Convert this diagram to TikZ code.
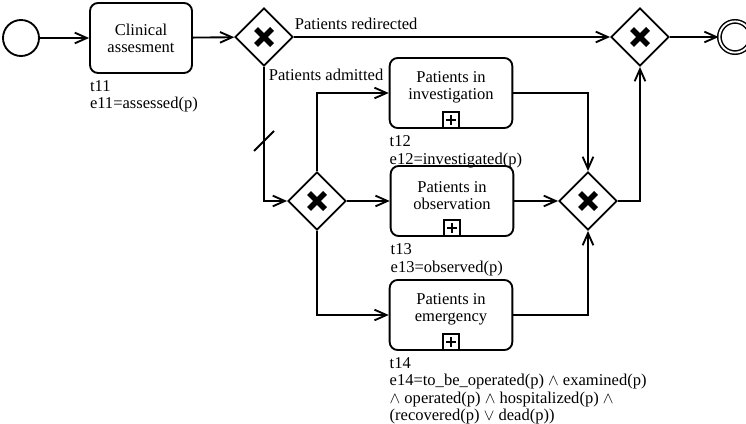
\documentclass[tikz,border=0pt]{standalone}
\usepackage{fontspec}
\setmainfont{Liberation Serif}
\newfontfamily\bpmnfont{Liberation Serif}
\usetikzlibrary{arrows.meta,shapes.geometric}

\begin{document}
\begin{tikzpicture}[x=0.75pt,y=-0.75pt,>={Straight Barb[length=9pt,width=8pt]},line width=1.4pt,font=\bpmnfont\fontsize{12.4}{12.9}\selectfont]
\tikzstyle{task}=[draw,rounded corners=6pt,minimum width=92pt,minimum height=52.5pt,inner sep=0pt]
\tikzstyle{gw}=[draw,diamond,aspect=1,minimum width=43.5pt,minimum height=43.5pt,inner sep=0pt]
\tikzstyle{sub}=[draw,minimum size=12pt,inner sep=0pt,line width=1.2pt]
\tikzstyle{info}=[anchor=north west,align=left,inner sep=0pt]
\tikzstyle{cross}=[line width=4pt]
\useasboundingbox (0,0) rectangle (746,424);

% events
\node[draw,circle,minimum size=27pt,inner sep=0pt] (start) at (21,38) {};
\node[draw,circle,double,line width=1.1pt,double distance=1.4pt,minimum size=23.4pt,inner sep=0pt] (end) at (735,37) {};

% tasks
\node[task,minimum width=76.5pt,align=center] (t11) at (141,38) {Clinical\\assesment};
\node[task] (t12) at (451,93) {};
\node[task] (t13) at (452,201) {};
\node[task] (t14) at (451,315) {};
\node[align=center] (n12) at ([yshift=4pt]t12.center) {Patients in\\investigation};
\node[align=center] (n13) at ([yshift=4pt]t13.center) {Patients in\\observation};
\node[align=center] (n14) at ([yshift=4pt]t14.center) {Patients in\\emergency};
\foreach \t in {t12,t13,t14}{
  \node[sub,anchor=south] (m\t) at (\t.south) {};
  \draw ([xshift=-3.5pt]m\t.center) -- ([xshift=3.5pt]m\t.center)
        ([yshift=-3.5pt]m\t.center) -- ([yshift=3.5pt]m\t.center);
}

% gateways
\node[gw] (g1) at (264,37) {};
\node[gw] (g2) at (317,201) {};
\node[gw] (g3) at (588,201) {};
\node[gw] (g4) at (640,37) {};
\foreach \g in {g1,g2,g3,g4}
  \draw[cross] ([shift={(-6pt,-6pt)}]\g.center) -- ([shift={(6pt,6pt)}]\g.center)
               ([shift={(-6pt,6pt)}]\g.center) -- ([shift={(6pt,-6pt)}]\g.center);

% annotations
\node[info] (i11) at ([yshift=-4.5pt]t11.south west) {t11\\e11=assessed(p)};
\node[info] (i12) at ([yshift=-4.5pt]t12.south west) {t12\\e12=investigated(p)};
\node[info] (i13) at ([yshift=-4.5pt]t13.south west) {t13\\e13=observed(p)};
\node[info] (i14) at ([yshift=-4.5pt]t14.south west) {t14\\e14=to\_be\_operated(p) $\land$ examined(p)\\$\land$ operated(p) $\land$ hospitalized(p) $\land$\\(recovered(p) $\lor$ dead(p))};

% flows
\draw[->] (start) -- (t11);
\draw[->] (t11) -- (g1);
\draw[->] (g1) -- node[pos=0,anchor=base west,inner sep=0pt,yshift=5.3pt] (lred) {Patients redirected} (g4);
\draw[->] (g1) |- (g2);
\node[anchor=base west,inner sep=0pt] (ladm) at (268,81) {Patients admitted};
\draw ([shift={(-10,114)}]g1.center) -- ++(20,-20);
\draw[->] (g2) |- (t12);
\draw[->] (g2) -- (t13);
\draw[->] (g2) |- (t14);
\draw[->] (t12) -| (g3);
\draw[->] (t13) -- (g3);
\draw[->] (t14) -| (g3);
\draw[->] (g3) -| (g4);
\draw[->] (g4) -- (end);
\end{tikzpicture}
\end{document}
